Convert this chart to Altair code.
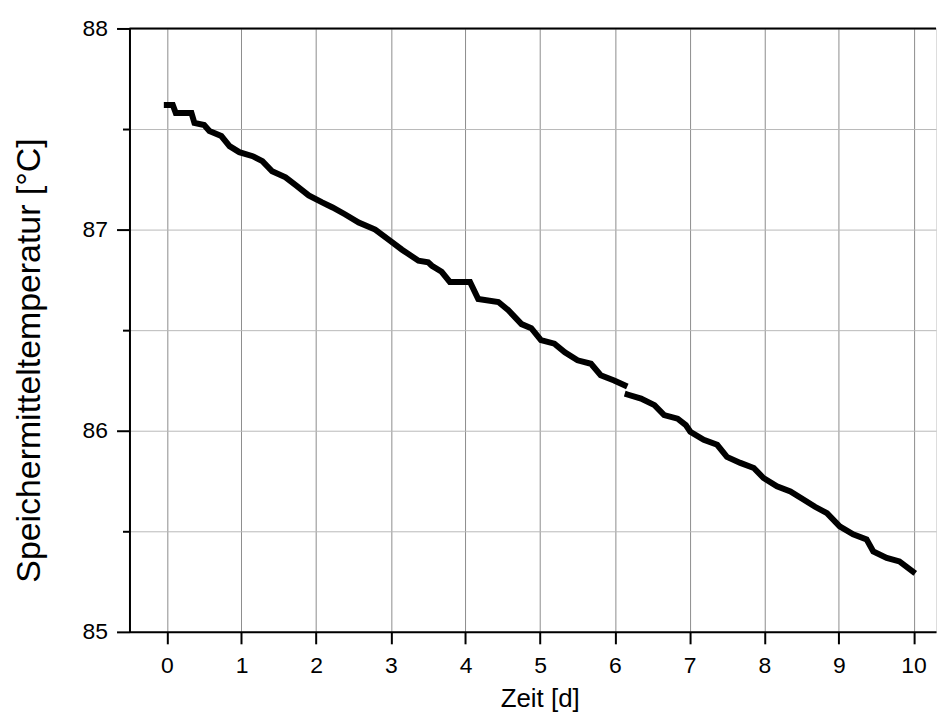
import altair as alt
import pandas as pd

# Segment A (before the small gap near day 6.15)
days_a = [0.00, 0.08, 0.12, 0.33, 0.37, 0.50, 0.57, 0.73, 0.84, 0.97, 1.15, 1.28, 1.41,
          1.59, 1.73, 1.90, 2.08, 2.22, 2.39, 2.57, 2.79, 2.97, 3.15, 3.37, 3.50,
          3.55, 3.68, 3.79, 4.06, 4.17, 4.44, 4.57, 4.75, 4.88, 5.01, 5.19, 5.33,
          5.50, 5.68, 5.81, 5.99, 6.13]
temps_a = [87.62, 87.62, 87.58, 87.58, 87.53, 87.52, 87.49, 87.465, 87.415, 87.385, 87.365, 87.34, 87.29,
           87.26, 87.22, 87.17, 87.135, 87.11, 87.075, 87.035, 87.00, 86.95, 86.90, 86.845, 86.837,
           86.82, 86.79, 86.74, 86.74, 86.655, 86.64, 86.60, 86.53, 86.51, 86.45, 86.433, 86.39,
           86.35, 86.333, 86.276, 86.25, 86.226]

# Segment B (after the gap)
days_b = [6.17, 6.35, 6.53, 6.66, 6.84, 6.95, 7.01, 7.19, 7.37, 7.50, 7.68, 7.86,
          7.99, 8.17, 8.35, 8.53, 8.68, 8.84, 9.01, 9.19, 9.37, 9.46, 9.64, 9.81, 9.99]
temps_b = [86.18, 86.16, 86.127, 86.078, 86.06, 86.028, 85.995, 85.955, 85.93, 85.87, 85.84, 85.815,
           85.765, 85.724, 85.698, 85.657, 85.622, 85.59, 85.525, 85.485, 85.46, 85.40, 85.368, 85.35, 85.30]

x_ticks = list(range(0, 11))
y_ticks = [85, 85.5, 86, 86.5, 87, 87.5, 88]

df = pd.DataFrame({
    "day": days_a + days_b,
    "temp": temps_a + temps_b,
    "seg": ["a"] * len(days_a) + ["b"] * len(days_b),
})

FONT = "Liberation Sans"

x_enc = alt.X(
    "day:Q",
    scale=alt.Scale(domain=[-0.5, 10.3], nice=False, zero=False),
    axis=alt.Axis(
        values=x_ticks,
        title="Zeit [d]",
        grid=True,
        gridColor="#8c8c8c",
        gridWidth=1,
        domainColor="black",
        domainWidth=2,
        tickColor="black",
        tickWidth=2,
        tickSize=12,
        labelFontSize=23,
        labelFont=FONT,
        labelColor="black",
        labelPadding=11,
        titleFont=FONT,
        titleFontSize=26,
        titleFontWeight="normal",
        titleColor="black",
        titlePadding=8,
        titleX=412,
    ),
)

y_enc = alt.Y(
    "temp:Q",
    scale=alt.Scale(domain=[85, 88], nice=False, zero=False),
    axis=alt.Axis(
        values=y_ticks,
        labelExpr="datum.value % 1 == 0 ? '' + datum.value : ''",
        title="Speichermitteltemperatur [°C]",
        grid=True,
        gridColor="#b8b8b8",
        gridWidth=1,
        domainColor="black",
        domainWidth=2,
        tickColor="black",
        tickWidth=2,
        tickSize={"condition": {"test": "datum.value % 1 != 0", "value": 7}, "value": 13},
        labelFontSize=23,
        labelFont=FONT,
        labelColor="black",
        labelPadding=9,
        titleFont=FONT,
        titleFontSize=34,
        titleFontWeight="normal",
        titleColor="black",
        titlePadding=36,
        titleY=333,
    ),
)

line = alt.Chart(df).mark_line(
    color="black",
    strokeWidth=6,
    strokeCap="square",
    strokeJoin="miter",
).encode(x=x_enc, y=y_enc, detail="seg:N")

top = alt.Chart(pd.DataFrame({"t": [88]})).mark_rule(color="black", strokeWidth=2).encode(
    y=alt.Y("t:Q")
)

chart = alt.layer(line, top).properties(
    width=810,
    height=606,
    padding={"left": 122, "top": 19, "right": 2, "bottom": 95},
    autosize=alt.AutoSizeParams(type="none"),
).configure_view(stroke=None).configure(background="white")

chart.save("out.html", embed_options={"renderer": "svg", "actions": False})
